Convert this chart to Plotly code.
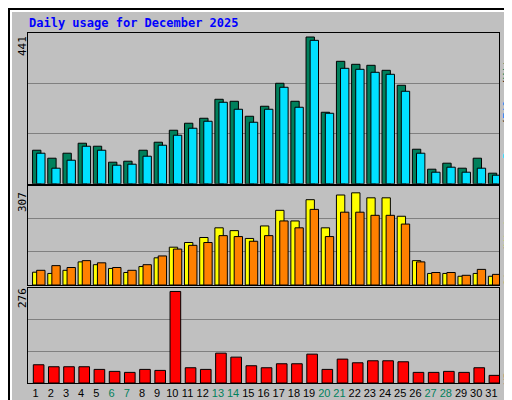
import plotly.graph_objects as go

days = list(range(1, 32))
weekend = [6, 7, 13, 14, 20, 21, 27, 28]
hits = [101,77,92,122,113,65,68,101,125,161,182,197,254,248,203,233,302,248,441,215,368,359,356,341,296,104,44,62,47,77,32]
files = [92,47,71,113,101,56,59,83,116,146,167,188,245,224,185,224,290,230,431,212,347,344,335,329,278,92,35,50,35,47,26]
visits = [41,37,47,74,65,53,40,59,87,121,136,152,183,174,149,189,239,205,273,183,288,295,279,279,220,78,37,37,28,37,28]
sites = [47,62,56,78,71,56,47,65,93,115,127,136,158,155,140,158,205,183,242,155,233,233,223,223,195,74,40,40,31,50,34]
kbytes = [55,49,49,49,41,35,32,41,38,276,46,41,90,78,52,46,58,58,87,41,72,61,67,67,64,32,32,35,32,46,23]

mono = "DejaVu Sans Mono"
line = dict(color="black", width=1)
fig = go.Figure()
def bar(y, color, yaxis, off, w):
    fig.add_trace(go.Bar(x=days, y=y, marker=dict(color=color, line=line), offset=off, width=w,
                         yaxis=yaxis, xaxis="x" if yaxis == "y" else ("x2" if yaxis == "y2" else "x3"),
                         showlegend=False, hoverinfo="skip"))
bar(hits, "#00805c", "y3", -0.2, 0.55)
bar(files, "#00e0ff", "y3", 0.07, 0.55)
bar(visits, "#ffff00", "y2", -0.2, 0.55)
bar(sites, "#ff8000", "y2", 0.07, 0.55)
bar(kbytes, "#ff0000", "y", -0.15, 0.7)

L, R, T, B = 20, 21, 25, 25
PW, PH = 512 - L - R, 400 - T - B
def px(x): return (x - L) / PW
def py(y): return (400 - B - y) / PH

ax = dict(range=[0.5, 31.5], showgrid=False, zeroline=False, showline=True, linecolor="black",
          mirror=True, fixedrange=True, automargin=False)
ticktext = [f"<span style='color:{'#00805c' if d in weekend else 'black'}'>{d}</span>" for d in days]
R3, R2, R1 = 453, 317, 286
def yax(Rg, dom, anchor):
    return dict(range=[0, Rg], domain=dom, tickvals=[Rg/3, 2*Rg/3], showticklabels=False, ticks="",
                gridcolor="#808080", gridwidth=1, zeroline=False, showline=True, linecolor="black",
                mirror=True, anchor=anchor, automargin=False)
fig.update_layout(
    width=512, height=400, paper_bgcolor="#c0c0c0", plot_bgcolor="#c0c0c0",
    margin=dict(l=L, r=R, t=T, b=B, autoexpand=False), barmode="overlay",
    xaxis=dict(ax, tickvals=days, ticktext=ticktext, ticks="", tickangle=0,
               tickfont=dict(family="Liberation Sans", size=11, color="black"), anchor="y"),
    xaxis2=dict(ax, showticklabels=False, anchor="y2"),
    xaxis3=dict(ax, showticklabels=False, anchor="y3"),
    yaxis=yax(R1, [0, 0.271], "x"),
    yaxis2=yax(R2, [0.28, 0.563], "x2"),
    yaxis3=yax(R3, [0.569, 1], "x3"),
    font=dict(family=mono),
)
ann = [dict(text="<b>Daily usage for December 2025</b>", x=px(19), y=py(15), xanchor="left",
            font=dict(size=12, color="#0000ff"))]
for v, yy in [("441", 38), ("307", 194), ("276", 290)]:
    ann.append(dict(text=v, x=px(14), y=py(yy), textangle=-90, font=dict(size=11, color="black")))
ann.append(dict(text="<span style='color:#00e0ff'>Pages</span><span style='color:black'>/</span><span style='color:#0080ff'>Files</span><span style='color:black'>/</span><span style='color:#00805c'>Hits</span>",
                x=px(500), y=py(98), textangle=-90, font=dict(size=11)))
ann.append(dict(text="<span style='color:#ff8000'>Sites</span><span style='color:black'>/</span><span style='color:#ffff00'>Visits</span>",
                x=px(500), y=py(238), textangle=-90, font=dict(size=11)))
ann.append(dict(text="KBytes", x=px(500), y=py(357), textangle=-90, font=dict(size=11, color="#ff0000")))
for a in ann:
    a.update(xref="paper", yref="paper", showarrow=False, yanchor="middle")
    a.setdefault("xanchor", "center")
fig.update_layout(annotations=ann)
fig.add_shape(type="rect", xref="paper", yref="paper", x0=px(1), x1=px(511), y0=py(399), y1=py(1),
              line=dict(color="black", width=2), layer="above")
fig.add_shape(type="rect", xref="paper", yref="paper", x0=px(3), x1=px(504), y0=py(393), y1=py(3),
              line=dict(color="white", width=2), layer="below")
fig.add_shape(type="line", xref="paper", yref="paper", x0=px(4), x1=px(504), y0=py(394), y1=py(394),
              line=dict(color="#808080", width=4), layer="below")
fig.add_shape(type="line", xref="paper", yref="paper", x0=px(505), x1=px(505), y0=py(4), y1=py(394),
              line=dict(color="#808080", width=4), layer="below")
fig.write_html("out.html")
